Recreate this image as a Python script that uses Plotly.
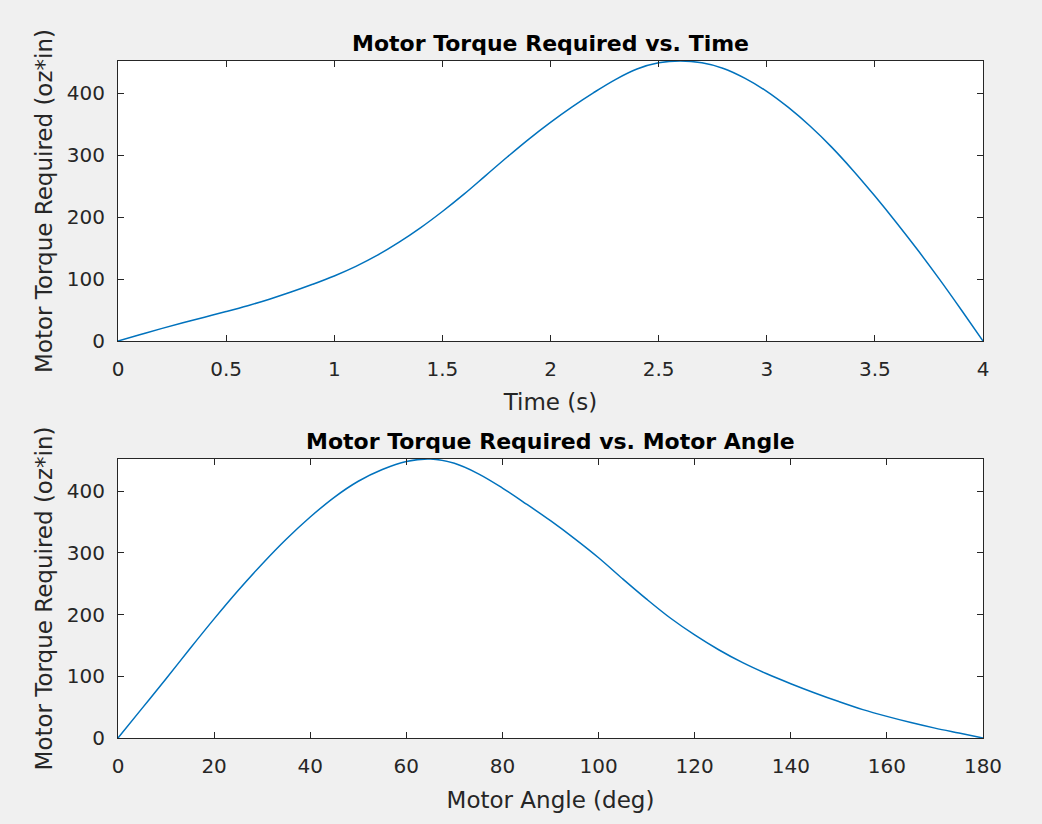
import plotly.graph_objects as go

# ---- data ----
time_s = [0.0, 0.1, 0.2, 0.3, 0.4, 0.5, 0.6, 0.7, 0.8, 0.9, 1.0, 1.1, 1.2, 1.3, 1.4,
          1.5, 1.6, 1.7, 1.8, 1.9, 2.0, 2.1, 2.2, 2.3, 2.4, 2.5, 2.6, 2.7, 2.8, 2.9,
          3.0, 3.1, 3.2, 3.3, 3.4, 3.5, 3.6, 3.7, 3.8, 3.9, 4.0]
torque_vs_time = [0, 10, 20, 29.5, 38.5, 47.5, 57, 67.5, 79, 91.5, 105, 120.5, 138.5,
                  159.5, 183, 209, 237, 267, 297, 326, 353, 378, 401, 422, 439, 449,
                  452, 449, 440, 424, 403, 377, 347, 313, 275, 234, 191, 146, 99, 50, 0]

angle_deg = [0, 5, 10, 15, 20, 25, 30, 35, 40, 45, 50, 55, 60, 65, 70, 75, 80, 85, 90,
             95, 100, 105, 110, 115, 120, 125, 130, 135, 140, 145, 150, 155, 160, 165,
             170, 175, 180]
torque_vs_angle = [0, 48, 96, 145, 193, 239, 282, 322, 358, 390, 416, 435, 448, 452,
                   445, 428, 405, 379, 352, 323, 292, 258, 225, 194, 167, 143, 122, 104,
                   88, 73, 59, 46, 35, 25, 16, 8, 0]

time_ticks = [0, 0.5, 1, 1.5, 2, 2.5, 3, 3.5, 4]
angle_ticks = [0, 20, 40, 60, 80, 100, 120, 140, 160, 180]
torque_ticks = [0, 100, 200, 300, 400]

title_top = "Motor Torque Required vs. Time"
title_bottom = "Motor Torque Required vs. Motor Angle"
ylabel = "Motor Torque Required (oz*in)"
xlabel_top = "Time (s)"
xlabel_bottom = "Motor Angle (deg)"

LINE = "#0072BD"
AX = "#262626"
FONT = "DejaVu Sans"

fig = go.Figure()
fig.add_trace(go.Scatter(x=time_s, y=torque_vs_time, mode="lines",
                         line=dict(color=LINE, width=1.5, shape="spline", smoothing=1.0),
                         xaxis="x", yaxis="y", showlegend=False, hoverinfo="skip"))
fig.add_trace(go.Scatter(x=angle_deg, y=torque_vs_angle, mode="lines",
                         line=dict(color=LINE, width=1.5, shape="spline", smoothing=1.0),
                         xaxis="x2", yaxis="y2", showlegend=False, hoverinfo="skip"))


def axis(**kw):
    d = dict(showline=True, linecolor=AX, linewidth=1, mirror="ticks", ticks="inside",
             ticklen=6, tickwidth=1, tickcolor=AX, showgrid=False, zeroline=False,
             tickfont=dict(family=FONT, size=20, color=AX))
    d.update(kw)
    return d


top_dom = [0.5864, 1.0]
bot_dom = [0.0, 0.4121]
title_font = dict(family=FONT, size=23, color=AX)

fig.update_layout(
    width=1042, height=824,
    margin=dict(l=118, r=59, t=61, b=86),
    paper_bgcolor="#f0f0f0", plot_bgcolor="white",
    xaxis=axis(domain=[0, 1], anchor="y", range=[0, 4], tickvals=time_ticks,
               ticklabelstandoff=10,
               title=dict(text=xlabel_top, font=title_font, standoff=13)),
    yaxis=axis(domain=top_dom, anchor="x", range=[0, 452], tickvals=torque_ticks,
               ticklabelstandoff=8,
               title=dict(text=ylabel, font=title_font, standoff=7)),
    xaxis2=axis(domain=[0, 1], anchor="y2", range=[0, 180], tickvals=angle_ticks,
                ticklabelstandoff=10,
                title=dict(text=xlabel_bottom, font=title_font, standoff=14)),
    yaxis2=axis(domain=bot_dom, anchor="x2", range=[0, 452], tickvals=torque_ticks,
                ticklabelstandoff=8,
                title=dict(text=ylabel, font=title_font, standoff=7)),
    annotations=[
        dict(text="<b>" + title_top + "</b>", x=0.5, xref="paper", y=top_dom[1], yref="paper",
             xanchor="center", yanchor="bottom", yshift=3, showarrow=False,
             font=dict(family=FONT, size=22, color="black")),
        dict(text="<b>" + title_bottom + "</b>", x=0.5, xref="paper", y=bot_dom[1], yref="paper",
             xanchor="center", yanchor="bottom", yshift=3, showarrow=False,
             font=dict(family=FONT, size=22, color="black")),
    ],
)

fig.write_html("out.html")
